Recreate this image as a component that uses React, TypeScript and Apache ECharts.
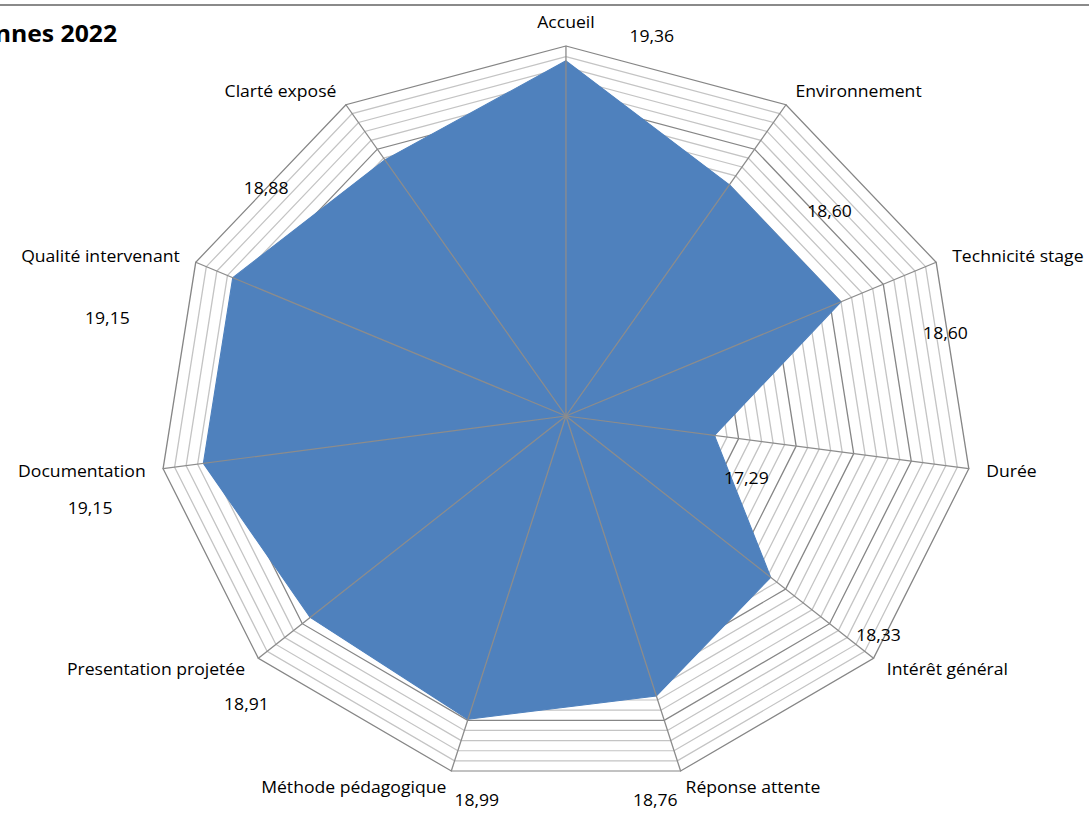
import React, { useEffect, useRef } from "react";
import * as echarts from "echarts";

// ---- data ----
const categories = [
  "Accueil",
  "Environnement",
  "Technicité stage",
  "Durée",
  "Intérêt général",
  "Réponse attente",
  "Méthode pédagogique",
  "Presentation projetée",
  "Documentation",
  "Qualité intervenant",
  "Clarté exposé",
];
const scores = [19.36, 18.6, 18.6, 17.29, 18.33, 18.76, 18.99, 18.91, 19.15, 19.15, 18.88];
const axisMin = 16;
const axisMax = 19.5;
const axisSplits = 35;
const titleText = "Moyennes 2022";

// ---- styles ----
const labelOffsets: [number, number][] = [
  [78, -25],
  [91, 26],
  [95, 31],
  [29, 42],
  [98, 58],
  [-1, 104],
  [8, 81],
  [-58, 86],
  [-103, 44],
  [-114, 40],
  [-108, 28],
];
const STRETCH = 1.1;
const W = 990;
const H = 818;
const CX = 514.5;
const CY = 416;
const R = 370;
const FONT = '"Open Sans", "Liberation Sans", sans-serif';
const BLUE = "#4F81BD";

export default function App() {
  const ref = useRef<HTMLDivElement>(null);
  useEffect(() => {
    if (!ref.current) return;
    const chart = echarts.init(ref.current, undefined, { renderer: "svg" });
    const n = categories.length;
    // ECharts lays out radar indicators counter-clockwise: reverse to get clockwise order
    const order = [0, ...Array.from({ length: n - 1 }, (_, k) => n - 1 - k)];
    const indicator = order.map((i) => ({ name: categories[i], min: axisMin, max: axisMax }));
    const values = order.map((i) => scores[i]);
    const step = (Math.PI * 2) / n;

    chart.setOption({
      animation: false,
      backgroundColor: "#ffffff",
      graphic: [
        {
          type: "line",
          shape: { x1: 0, y1: 5, x2: W, y2: 5 },
          style: { stroke: "#8a8a8a", lineWidth: 2 },
          z: 10,
        },
        {
          type: "text",
          x: 106.5,
          y: 33,
          style: {
            text: titleText,
            align: "right",
            verticalAlign: "middle",
            fontSize: 22.5,
            fontWeight: "bold",
            fontFamily: FONT,
            fill: "#000",
          },
          z: 10,
        },
      ],
      radar: [
        {
          center: [CX, CY],
          radius: R,
          startAngle: 90,
          shape: "polygon",
          splitNumber: axisSplits,
          indicator,
          nameGap: 16,
          axisName: { color: "#000", fontSize: 16, fontFamily: FONT },
          axisLine: { show: false },
          axisTick: { show: false },
          axisLabel: { show: false },
          splitArea: { show: false },
          splitLine: {
            show: true,
            lineStyle: {
              color: ["#868686", "#c4c4c4", "#c4c4c4", "#c4c4c4", "#c4c4c4"],
              width: 1.2,
            },
          },
          z: 0,
        },
        {
          center: [CX, CY],
          radius: R,
          startAngle: 90,
          shape: "polygon",
          splitNumber: axisSplits,
          indicator,
          axisName: { show: false },
          axisLine: { show: true, lineStyle: { color: "#8c8c8c", width: 1.2 } },
          axisTick: { show: false },
          axisLabel: { show: false },
          splitArea: { show: false },
          splitLine: { show: false },
          z: 3,
        },
      ],
      series: [
        {
          type: "radar",
          radarIndex: 0,
          z: 2,
          symbol: "circle",
          symbolSize: 1,
          itemStyle: { color: BLUE },
          lineStyle: { color: BLUE, width: 1 },
          areaStyle: { color: BLUE, opacity: 1 },
          label: {
            show: true,
            position: "inside",
            align: "center",
            verticalAlign: "middle",
            color: "#000",
            fontSize: 16,
            fontFamily: FONT,
            formatter: (p: any) => Number(p.value).toFixed(2).replace(".", ","),
          },
          labelLayout: (p: any) => {
            const px = p.rect.x + p.rect.width / 2 - CX;
            const py = p.rect.y + p.rect.height / 2 - CY;
            let a = Math.atan2(px, -py);
            if (a < 0) a += Math.PI * 2;
            const idx = Math.round(a / step) % n;
            const off = labelOffsets[idx];
            return { dx: off[0], dy: off[1] };
          },
          data: [{ value: values, name: titleText }],
        },
      ],
    });
    return () => chart.dispose();
  }, []);

  return (
    <div style={{ position: "fixed", left: 0, top: 0, width: 1090, height: H, overflow: "hidden", background: "#fff" }}>
      <div
        ref={ref}
        style={{
          position: "absolute",
          left: 0,
          top: 0,
          width: W,
          height: H,
          transform: `scaleX(${STRETCH})`,
          transformOrigin: "0 0",
        }}
      />
    </div>
  );
}
